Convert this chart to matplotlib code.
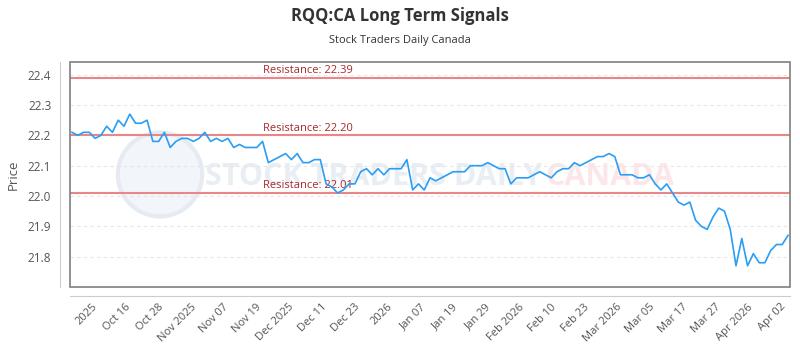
import matplotlib.pyplot as plt
import numpy as np
from matplotlib.patches import Rectangle, Ellipse

# price series (daily closes, oldest first)
prices = [
    22.21, 22.20, 22.21, 22.21, 22.19, 22.20, 22.23, 22.21, 22.25, 22.23,
    22.27, 22.24, 22.24, 22.25, 22.18, 22.18, 22.21, 22.16, 22.18, 22.19,
    22.19, 22.18, 22.19, 22.21, 22.18, 22.19, 22.18, 22.19, 22.16, 22.17,
    22.16, 22.16, 22.16, 22.18, 22.11, 22.12, 22.13, 22.14, 22.12, 22.14,
    22.11, 22.11, 22.12, 22.12, 22.04, 22.03, 22.01, 22.02, 22.04, 22.04,
    22.08, 22.09, 22.07, 22.09, 22.07, 22.09, 22.09, 22.09, 22.12, 22.02,
    22.04, 22.02, 22.06, 22.05, 22.06, 22.07, 22.08, 22.08, 22.08, 22.10,
    22.10, 22.10, 22.11, 22.10, 22.09, 22.09, 22.04, 22.06, 22.06, 22.06,
    22.07, 22.08, 22.07, 22.06, 22.08, 22.09, 22.09, 22.11, 22.10, 22.11,
    22.12, 22.13, 22.13, 22.14, 22.13, 22.07, 22.07, 22.07, 22.06, 22.06,
    22.07, 22.04, 22.02, 22.04, 22.01, 21.98, 21.97, 21.98, 21.92, 21.90,
    21.89, 21.93, 21.96, 21.95, 21.89, 21.77, 21.86, 21.77, 21.81, 21.78,
    21.78, 21.82, 21.84, 21.84, 21.87,
]

resistance = [22.39, 22.20, 22.01]

tick_labels = ['2025', 'Oct 16', 'Oct 28', 'Nov 2025', 'Nov 07', 'Nov 19',
               'Dec 2025', 'Dec 11', 'Dec 23', '2026', 'Jan 07', 'Jan 19',
               'Jan 29', 'Feb 2026', 'Feb 10', 'Feb 23', 'Mar 2026', 'Mar 05',
               'Mar 17', 'Mar 27', 'Apr 2026', 'Apr 02']

yticks = [21.8, 21.9, 22.0, 22.1, 22.2, 22.3, 22.4]

plt.rcParams['font.family'] = ['Open Sans', 'DejaVu Sans']

fig = plt.figure(figsize=(8, 3.5), dpi=100)
ax = fig.add_axes([0.0875, 0.18, 0.9, 0.643])

x = np.arange(len(prices))
ax.set_xlim(-0.35, len(prices) - 1 + 0.35)
ax.set_ylim(21.70, 22.442)

# faint watermark (logo + name)
ax.add_patch(Ellipse((0.125, 0.5), 0.117, 0.373, transform=ax.transAxes,
                     facecolor='#f2f5f9', edgecolor='#e6ebf1', lw=3, zorder=0.5))
ax.text(0.1875, 0.49, 'STOCK TRADERS DAILY', transform=ax.transAxes,
        ha='left', va='center', fontsize=22, color='#e9eef4',
        fontweight='bold', zorder=0.6)
ax.text(0.66, 0.49, 'CANADA', transform=ax.transAxes, ha='left',
        va='center', fontsize=22, color='#fde6e9', fontweight='bold', zorder=0.6)

# grid
for yt in yticks:
    ax.axhline(yt, color='#e6e6e6', lw=0.8, ls=(0, (3, 3)), zorder=1)

# resistance lines
for r in resistance:
    ax.axhline(r, color='#e8868a', lw=1.5, zorder=2)
    ax.text(0.268, r + 0.006, 'Resistance: %.2f' % r, transform=ax.get_yaxis_transform(),
            color='#a8282e', fontsize=8, va='bottom', ha='left', zorder=3)

ax.plot(x, prices, color='#2a9df4', lw=1.2, zorder=4)

# box around the plot area
ax.add_patch(Rectangle((0, 0), 1, 1, transform=ax.transAxes, fill=False,
                       edgecolor='#7f7f7f', lw=1.2, clip_on=False, zorder=5))

for s in ['top', 'right']:
    ax.spines[s].set_visible(False)
ax.spines['left'].set_position(('outward', 7.5))
ax.spines['bottom'].set_position(('outward', 6.5))
ax.spines['left'].set_color('#cccccc')
ax.spines['bottom'].set_color('#cccccc')

ax.set_yticks(yticks)
ax.set_yticklabels(['%.1f' % v for v in yticks])
ax.tick_params(axis='y', length=0, pad=6, labelsize=8.5, labelcolor='#555555')

ax.set_xticks(np.linspace(3.5, 122.7, len(tick_labels)))
ax.set_xticklabels(tick_labels, rotation=45, ha='right', rotation_mode='anchor')
ax.tick_params(axis='x', length=0, pad=4, labelsize=8, labelcolor='#555555')

ax.set_ylabel('Price', fontsize=9.5, color='#555555', labelpad=6)

fig.text(0.5, 0.955, 'RQQ:CA Long Term Signals', ha='center', va='center',
         fontsize=12, fontweight='bold', color='#333333')
fig.text(0.5, 0.885, 'Stock Traders Daily Canada', ha='center', va='center',
         fontsize=8, color='#333333')

fig.savefig('out.png', dpi=100)
